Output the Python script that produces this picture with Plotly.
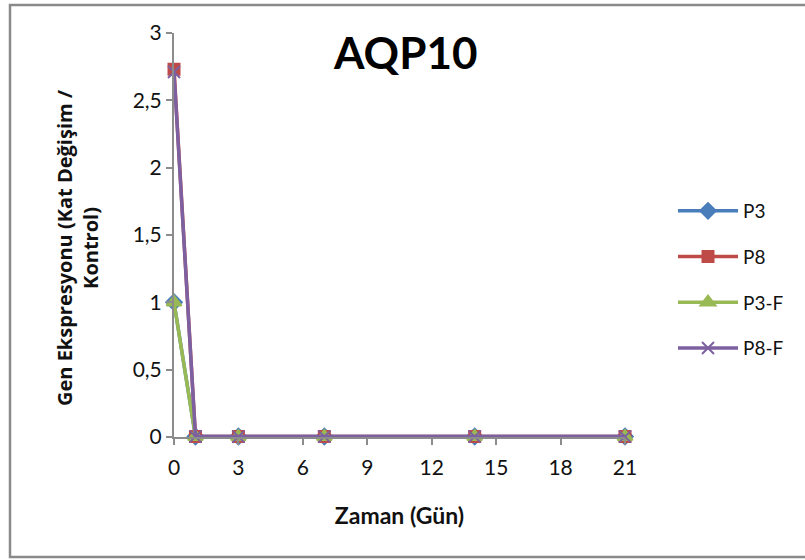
import plotly.graph_objects as go

# Sampling days and fold-change values for each group
days = [0, 1, 3, 7, 14, 21]
p3 = [1.0, 0.004, 0.004, 0.004, 0.004, 0.004]
p8 = [2.73, 0.004, 0.004, 0.004, 0.004, 0.004]
p3_f = [1.0, 0.002, 0.002, 0.002, 0.002, 0.002]
p8_f = [2.71, 0.003, 0.003, 0.003, 0.003, 0.003]

series = [
    ("P3", p3, "#4A7EBB", "diamond", 12),
    ("P8", p8, "#BE4B48", "square", 11),
    ("P3-F", p3_f, "#98B954", "triangle-up", 13),
    ("P8-F", p8_f, "#7D60A0", "x-thin-open", 12),
]

W, H = 805, 560
L, R, T, B = 174, 180, 33, 123
pw, ph = W - L - R, H - T - B

fig = go.Figure()
for i, (name, vals, color, sym, size) in enumerate(series):
    fig.add_trace(go.Scatter(
        x=days, y=vals, name=name, mode="lines+markers",
        legendgroup=f"g{i}",
        line=dict(color=color, width=3.5),
        marker=dict(symbol=sym, size=size, color=color,
                    line=dict(color=color, width=2)),
        cliponaxis=False,
    ))

font_family = "Lato, 'Open Sans', sans-serif"

fig.update_layout(
    width=W, height=H,
    margin=dict(l=L, r=R, t=T, b=B),
    paper_bgcolor="white", plot_bgcolor="white",
    separators=",.",
    font=dict(family=font_family, size=19, color="#111111"),
    showlegend=True,
    legend=dict(
        x=(673 - L) / pw, y=(437 - 192) / ph, xanchor="left", yanchor="top",
        font=dict(size=19, color="#111111"),
        tracegroupgap=18, itemwidth=60,
        bgcolor="rgba(0,0,0,0)",
    ),
    xaxis=dict(
        range=[0, 21], tickmode="array", tickvals=[0, 3, 6, 9, 12, 15, 18, 21],
        showgrid=False, zeroline=False,
        showline=True, linecolor="#8C8C8C", linewidth=2,
        ticks="outside", ticklen=6, tickcolor="#8C8C8C", tickwidth=2,
        tickfont=dict(size=21), ticklabelstandoff=5,
        title=dict(text="Zaman (Gün)", font=dict(size=23, weight="bold"),
                   standoff=30),
    ),
    yaxis=dict(
        range=[0, 3], tickmode="array", tickvals=[0, 0.5, 1, 1.5, 2, 2.5, 3],
        showgrid=False, zeroline=False,
        showline=True, linecolor="#8C8C8C", linewidth=2,
        ticks="outside", ticklen=6, tickcolor="#8C8C8C", tickwidth=2,
        tickfont=dict(size=21),
    ),
    annotations=[
        dict(
            text="AQP10", xref="paper", yref="paper",
            x=(405 - L) / pw, y=(437 - 52) / ph,
            xanchor="center", yanchor="middle", showarrow=False,
            font=dict(size=44, color="#000000", weight="bold"),
        ),
        # vertical y-axis title, two lines
        dict(
            text="Gen Ekspresyonu (Kat Değişim /<br>Kontrol)",
            xref="paper", yref="paper", textangle=-90,
            x=(77 - L) / pw, y=(437 - 248) / ph,
            xanchor="center", yanchor="middle",
            showarrow=False, align="center",
            font=dict(family="'Open Sans', sans-serif", size=20,
                      color="#111111", weight="bold"),
        ),
    ],
    shapes=[dict(
        type="rect", xref="paper", yref="paper", layer="below",
        x0=(10 - L) / pw, x1=(830 - L) / pw,
        y0=(437 - 557) / ph, y1=(437 - 5) / ph,
        line=dict(color="#8A8A8A", width=2.5), fillcolor="rgba(0,0,0,0)",
    )],
)

fig.write_html("out.html")
